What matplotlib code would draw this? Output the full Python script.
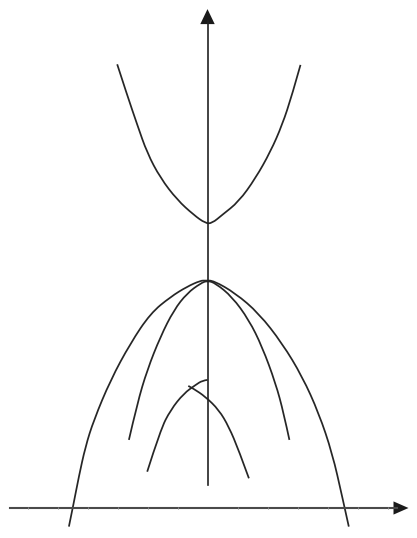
import matplotlib
matplotlib.use("Agg")
import matplotlib.pyplot as plt
from matplotlib.path import Path
from matplotlib.patches import PathPatch

# Curves in axis units (1 unit = one tick step on the horizontal axis)
up_x = [-3.01, -2.68, -2.34, -2.01, -1.57, -1.01, -0.46, -0.07, 0.15, 0.49, 1.04, 1.60, 2.10, 2.49, 2.82, 3.10]
up_y = [14.79, 13.77, 12.77, 11.83, 11.00, 10.27, 9.77, 9.49, 9.49, 9.77, 10.21, 10.99, 11.88, 12.77, 13.77, 14.77]

wide_x = [-4.62, -4.46, -4.29, -4.07, -3.79, -3.23, -2.57, -1.90, -1.23, -0.68, -0.23, -0.07, 0.20,
          0.93, 1.71, 2.49, 3.16, 3.71, 4.16, 4.49, 4.71]
wide_y = [-0.62, 0.16, 1.04, 2.04, 2.93, 4.27, 5.49, 6.49, 7.04, 7.38, 7.58, 7.58, 7.58,
          7.16, 6.49, 5.49, 4.38, 3.16, 1.82, 0.38, -0.62]

narrow_x = [-2.62, -2.34, -2.01, -1.57, -1.12, -0.68, -0.23, 0.00, 0.27, 0.82, 1.38, 1.82, 2.27, 2.54, 2.73]
narrow_y = [2.27, 3.49, 4.60, 5.71, 6.60, 7.16, 7.49, 7.58, 7.49, 7.04, 6.27, 5.38, 4.16, 3.16, 2.27]

small_left_x = [-2.01, -1.57, -1.23, -0.79, -0.40, -0.17, 0.00]
small_left_y = [1.21, 2.60, 3.27, 3.82, 4.10, 4.25, 4.27]

small_right_x = [-0.64, -0.47, -0.07, 0.38, 0.71, 1.04, 1.38]
small_right_y = [4.07, 3.98, 3.71, 3.27, 2.71, 1.93, 0.99]

x_ticks = [-6, -5, -4, -3, -2, -1, 1, 2, 3, 4, 5, 6]

# axis extents
x_axis_start, x_axis_end = -6.58, 6.70
y_axis_start, y_axis_end = 0.77, 16.63

fig = plt.figure(figsize=(4.17, 5.38), dpi=100)
ax = fig.add_axes([0, 0, 1, 1])
ax.set_xlim(-207.5 / 30, 209.5 / 30)
ax.set_ylim(-30 / 30, 508 / 30)
ax.axis("off")


def smooth_curve(xs, ys, **kw):
    """Draw a quadratic B-spline path using the read points as control points."""
    pts = list(zip(xs, ys))
    verts = [pts[0]]
    codes = [Path.MOVETO]
    for i in range(1, len(pts) - 1):
        mid = ((pts[i][0] + pts[i + 1][0]) / 2, (pts[i][1] + pts[i + 1][1]) / 2)
        end = pts[-1] if i == len(pts) - 2 else mid
        verts += [pts[i], end]
        codes += [Path.CURVE3, Path.CURVE3]
    ax.add_patch(PathPatch(Path(verts, codes), fill=False, **kw))


curve_kw = dict(edgecolor="#262626", lw=1.25, capstyle="butt", joinstyle="round")
smooth_curve(up_x, up_y, **curve_kw)
smooth_curve(wide_x, wide_y, **curve_kw)
smooth_curve(narrow_x, narrow_y, **curve_kw)
smooth_curve(small_left_x, small_left_y, **curve_kw)
smooth_curve(small_right_x, small_right_y, **curve_kw)

# axes lines
ax.plot([x_axis_start, x_axis_end - 0.4], [0, 0], color="#4a4a4a", lw=1.5)
ax.plot([0, 0], [y_axis_start, y_axis_end - 0.4], color="#222222", lw=1.2)
ax.fill([x_axis_end - 0.5, x_axis_end, x_axis_end - 0.5], [-0.22, 0, 0.22], color="#1a1a1a", lw=0)
ax.fill([-0.24, 0, 0.24], [y_axis_end - 0.5, y_axis_end, y_axis_end - 0.5], color="#1a1a1a", lw=0)

# faint tick marks on horizontal axis
ax.plot(x_ticks, [0] * len(x_ticks), linestyle="none", marker="|", markersize=1.6,
        color="#8a8a8a", markeredgewidth=0.7)

fig.savefig("out.png", dpi=100)
